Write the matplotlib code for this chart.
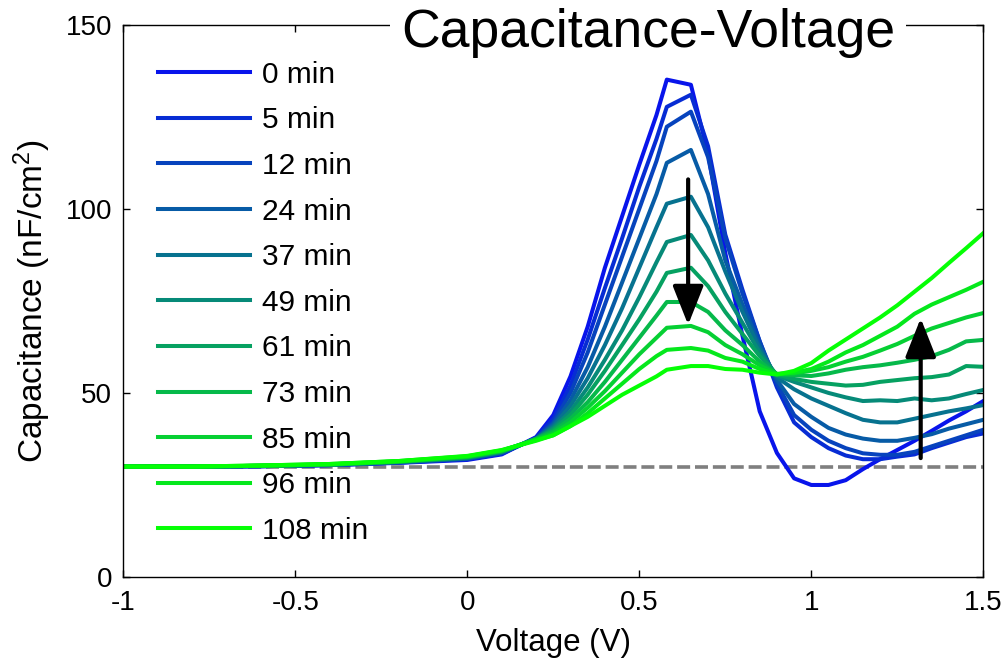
import numpy as np
import matplotlib
matplotlib.use('Agg')
import matplotlib.pyplot as plt

plt.rcParams['font.family'] = ['Liberation Sans', 'DejaVu Sans']
plt.rcParams['mathtext.default'] = 'regular'

# bias voltage (V)
voltage = [-1.0, -0.8, -0.6, -0.4, -0.2, 0.0, 0.1, 0.2, 0.25, 0.3, 0.35, 0.4, 0.45, 0.5, 0.55, 0.58,
           0.65, 0.7, 0.75, 0.8, 0.85, 0.9, 0.95, 1.0, 1.05, 1.1, 1.15, 1.2, 1.25, 1.3, 1.35, 1.4, 1.45, 1.5]

times = ['0 min', '5 min', '12 min', '24 min', '37 min', '49 min', '61 min', '73 min', '85 min', '96 min', '108 min']

# capacitance (nF/cm^2) per time step
c0 = [30.0, 30.0, 30.1, 30.4, 31.0, 31.8, 33.3, 38.0, 44.0, 54.5, 68.0, 84.0, 98.0, 112.0, 125.5, 135.1,
      133.7, 115.0, 88.0, 65.5, 45.0, 33.7, 26.8, 25.0, 25.0, 26.3, 29.3, 32.0, 34.5, 37.0, 39.7, 42.5, 45.0, 47.8]
c5 = [30.0, 30.0, 30.1, 30.4, 31.1, 32.0, 33.5, 37.8, 43.0, 52.0, 64.5, 78.5, 92.0, 106.0, 119.0, 127.7,
      131.0, 117.0, 93.0, 78.0, 64.0, 51.5, 42.0, 38.0, 35.0, 33.0, 32.0, 32.0, 32.7, 33.3, 35.0, 36.5, 38.0, 39.0]
c12 = [30.0, 30.0, 30.1, 30.4, 31.1, 32.1, 33.6, 37.7, 42.0, 50.0, 61.0, 74.0, 87.0, 100.0, 113.0, 122.3,
       126.4, 114.0, 92.0, 77.0, 64.0, 52.5, 44.0, 40.0, 37.0, 35.0, 33.6, 33.2, 33.2, 34.0, 35.5, 37.0, 38.5, 40.0]
c24 = [30.0, 30.0, 30.1, 30.5, 31.2, 32.2, 33.8, 37.6, 41.5, 48.0, 57.0, 68.0, 80.0, 92.0, 104.0, 112.5,
       116.0, 104.0, 86.0, 74.0, 63.0, 53.5, 47.0, 43.5, 40.5, 38.7, 37.6, 37.0, 37.0, 37.8, 38.8, 40.3, 41.5, 42.7]
c37 = [30.0, 30.0, 30.2, 30.5, 31.2, 32.3, 33.9, 37.5, 41.0, 46.5, 54.0, 63.0, 73.0, 84.0, 95.0, 101.4,
       103.3, 95.0, 83.0, 72.0, 62.0, 54.2, 51.0, 48.5, 46.5, 44.5, 42.7, 42.0, 42.0, 43.0, 44.0, 45.0, 45.8, 46.7]
c49 = [30.0, 30.0, 30.2, 30.5, 31.3, 32.4, 34.0, 37.5, 40.5, 45.0, 51.5, 59.0, 67.0, 76.0, 85.5, 91.0,
       92.9, 86.0, 77.0, 69.0, 61.0, 54.7, 53.0, 51.5, 50.0, 48.8, 47.8, 48.0, 47.8, 48.5, 48.0, 48.5, 49.7, 50.8]
c61 = [30.0, 30.0, 30.2, 30.5, 31.3, 32.5, 34.1, 37.5, 40.0, 44.0, 49.5, 56.0, 63.0, 70.0, 77.5, 82.6,
       84.0, 79.0, 72.0, 66.0, 60.0, 55.0, 53.8, 53.0, 52.5, 52.0, 52.2, 53.0, 53.5, 54.0, 54.3, 55.0, 57.3, 57.1]
c73 = [30.0, 30.0, 30.2, 30.6, 31.4, 32.6, 34.2, 37.5, 39.5, 43.0, 47.5, 53.0, 59.0, 65.0, 71.0, 74.7,
       74.7, 72.0, 67.0, 63.0, 58.5, 55.1, 54.8, 54.6, 55.3, 56.3, 57.0, 57.5, 58.2, 59.0, 60.0, 61.7, 64.0, 64.4]
c85 = [30.0, 30.0, 30.2, 30.6, 31.4, 32.7, 34.3, 37.3, 39.0, 42.0, 46.0, 50.5, 55.5, 60.5, 65.0, 67.7,
       68.2, 66.5, 63.0, 60.5, 57.5, 55.2, 55.3, 56.0, 57.0, 58.5, 59.8, 61.5, 63.3, 65.5, 67.5, 69.0, 70.5, 71.7]
c96 = [30.0, 30.0, 30.3, 30.7, 31.5, 32.8, 34.4, 37.2, 38.5, 41.0, 44.5, 48.5, 52.5, 56.5, 60.0, 61.7,
       62.2, 61.5, 59.5, 58.5, 56.5, 55.1, 55.5, 56.5, 58.5, 61.0, 63.0, 65.5, 68.0, 71.5, 74.0, 76.0, 78.0, 80.2]
c108 = [30.0, 30.0, 30.3, 30.7, 31.5, 32.9, 34.5, 37.0, 38.5, 41.0, 43.5, 46.5, 49.5, 52.0, 54.5, 56.3,
        57.3, 57.3, 56.5, 56.3, 55.5, 55.0, 56.0, 58.1, 61.5, 64.5, 67.5, 70.5, 73.8, 77.5, 81.2, 85.3, 89.3, 93.4]

curves = [c0, c5, c12, c24, c37, c49, c61, c73, c85, c96, c108]

baseline = 30  # dashed reference level

# blue -> green colour ramp
start = np.array([0.03, 0.08, 0.92])
end = np.array([0.02, 1.0, 0.02])
colors = [tuple(np.clip(start + (end - start) * i / (len(curves) - 1), 0, 1)) for i in range(len(curves))]

fig = plt.figure(figsize=(10.08, 6.64), dpi=100)
ax = fig.add_axes([0.1223, 0.131, 0.8532, 0.8317])

ax.plot([-1, 1.5], [baseline, baseline], color='#7f7f7f', lw=2.6, dashes=(3.6, 1.35), zorder=1)
for c, col, lab in zip(curves, colors, times):
    ax.plot(voltage, c, color=col, lw=2.9, label=lab, zorder=2)

# trend arrows
ax.annotate('', xy=(0.642, 68.5), xytext=(0.642, 108),
            arrowprops=dict(arrowstyle='-|>,head_length=2.4,head_width=0.95', lw=3, color='black',
                            mutation_scale=10, shrinkA=0, shrinkB=0))
ax.annotate('', xy=(1.318, 70.3), xytext=(1.318, 32.3),
            arrowprops=dict(arrowstyle='-|>,head_length=2.4,head_width=0.95', lw=3, color='black',
                            mutation_scale=10, shrinkA=0, shrinkB=0))

ax.set_xlim(-1, 1.5)
ax.set_ylim(0, 150)
ax.set_xticks([-1, -0.5, 0, 0.5, 1, 1.5])
ax.set_xticklabels(['-1', '-0.5', '0', '0.5', '1', '1.5'])
ax.set_yticks([0, 50, 100, 150])
ax.tick_params(direction='in', length=5, width=1, labelsize=20, top=True, right=True)
ax.tick_params(axis='x', pad=9)
ax.tick_params(axis='y', pad=8)
for s in ax.spines.values():
    s.set_linewidth(1)

ax.set_xlabel('Voltage (V)', fontsize=22.5, labelpad=9)
ax.set_ylabel('Capacitance (nF/cm$^2$)', fontsize=24, labelpad=9)

ax.text(0.61, 0.985, 'Capacitance-Voltage', transform=ax.transAxes, fontsize=38.5,
        ha='center', va='center', zorder=10, clip_on=False,
        bbox=dict(facecolor='white', edgecolor='none', pad=8))

ax.legend(loc='upper left', bbox_to_anchor=(0.0403, 0.935), frameon=False, fontsize=21.5,
          handlelength=3.07, handletextpad=0.4, labelspacing=0.59, borderpad=0, borderaxespad=0)

fig.savefig('out.png', dpi=100)
